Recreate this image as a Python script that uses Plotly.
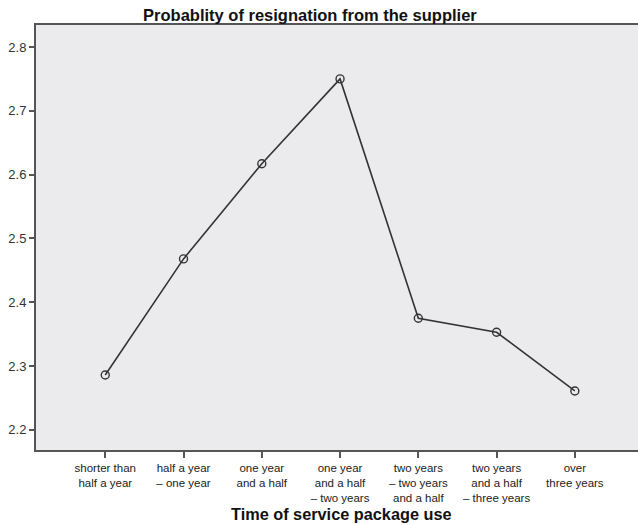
import plotly.graph_objects as go

categories = [
    "shorter than<br>half a year",
    "half a year<br>– one year",
    "one year<br>and a half",
    "one year<br>and a half<br>– two years",
    "two years<br>– two years<br>and a half",
    "two years<br>and a half<br>– three years",
    "over<br>three years",
]
values = [2.286, 2.468, 2.617, 2.750, 2.375, 2.353, 2.261]
y_ticks = [2.2, 2.3, 2.4, 2.5, 2.6, 2.7, 2.8]

fig = go.Figure()
fig.add_trace(go.Scatter(
    x=categories, y=values, mode="lines+markers",
    line=dict(color="#333333", width=1.6),
    marker=dict(symbol="circle-open", size=8, color="#333333", line=dict(width=1.4)),
    showlegend=False,
))

fig.update_layout(
    width=638, height=525,
    margin=dict(l=36, r=0, t=25, b=75),
    paper_bgcolor="white",
    plot_bgcolor="#EBEBED",
    font=dict(family="Liberation Sans, Arial, sans-serif", color="#222222"),
    title=dict(text="<b>Probablity of resignation from the supplier</b>",
               xref="paper", x=0.455, xanchor="center",
               yref="container", y=1 - 15 / 525, yanchor="middle",
               font=dict(size=16.5, color="#111111")),
    annotations=[dict(
        text="<b>Time of service package use</b>", xref="paper", x=0.507, xanchor="center",
        yref="paper", y=-64 / 425, yanchor="middle", showarrow=False,
        font=dict(size=16.3, color="#111111"),
    )],
)
fig.update_xaxes(
    type="category", range=[-0.885, 6.807], automargin=False,
    showgrid=False, showline=True, linecolor="#555555", linewidth=2, mirror=True,
    ticks="outside", ticklen=6, tickwidth=2, tickcolor="#555555",
    tickfont=dict(size=11.5, color="#222222"),
)
fig.update_yaxes(
    range=[2.1685, 2.8345], tickvals=y_ticks, ticktext=[f"{v:.1f}" for v in y_ticks],
    automargin=False,
    showgrid=False, zeroline=False, showline=True, linecolor="#555555", linewidth=2, mirror=True,
    ticks="outside", ticklen=5, tickwidth=2, tickcolor="#555555",
    tickfont=dict(size=13, color="#333333"),
)

fig.write_html("out.html", config={"displayModeBar": False},
               post_script="document.body.style.margin='0';")
